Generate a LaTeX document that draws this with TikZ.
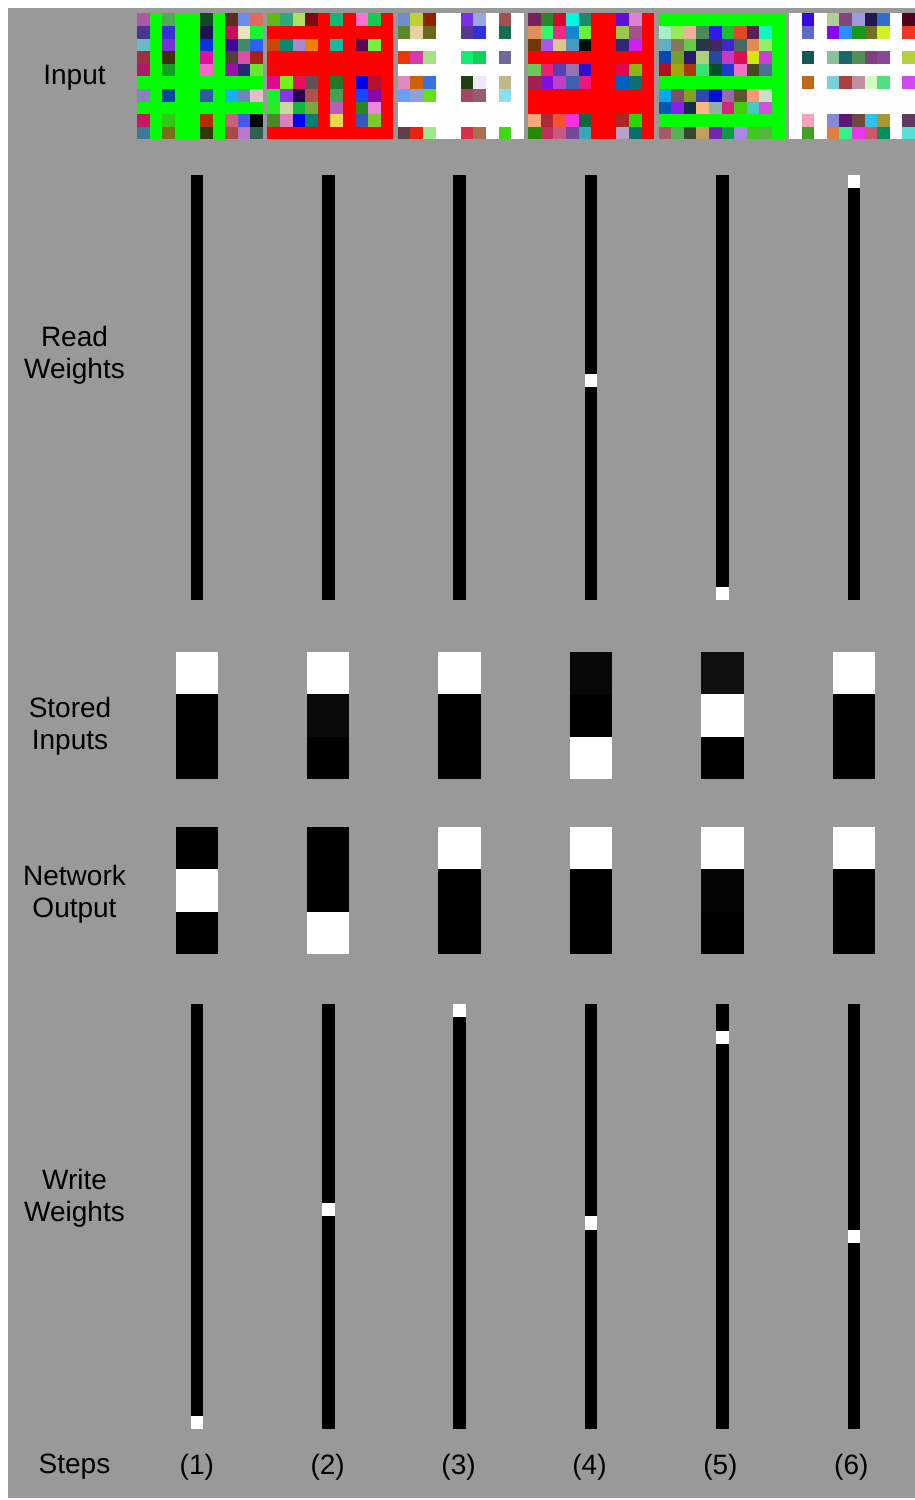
\documentclass[tikz,border=0pt]{standalone}
\usepackage{fontspec}
\setmainfont{Liberation Sans}
\usepackage{tikz}
\definecolor{cPanel}{HTML}{999999}
\tikzset{
  rowlbl/.style={align=center,font=\fontsize{28}{32}\selectfont,text=black,inner sep=0pt},
  steplbl/.style={font=\fontsize{28}{32}\selectfont,text=black,inner sep=0pt},
  wcell/.style={fill=#1},
}
% 10x10 colour grid: left edge, background hex, rows of hex values ("-" keeps the background)
\newcommand{\cellgrid}[3]{%
  \definecolor{gridbg}{HTML}{#2}%
  \fill[gridbg] (#1,13.3) rectangle ++(126,126);
  \foreach \row [count=\r from 0] in {#3}{
    \foreach \c [count=\k from 0] in \row{
      \ifnum\strcmp{\c}{-}=0 \else
        \definecolor{cellc}{HTML}{\c}%
        \fill[cellc] (#1+\k*12.6,13.3+\r*12.6) rectangle ++(12.65,12.65);
      \fi
    }
  }
}

\begin{document}
\begin{tikzpicture}[x=1pt,y=-1pt]
  \fill[white] (0,0) rectangle (915,1500);
  \useasboundingbox (0,0) rectangle (915,1500);
  \fill[cPanel] (8,8) rectangle (915,1498);

  % row labels
  \node[rowlbl] (lInput) at (74.5,78) {Input};
  \node[rowlbl] (lRead) at (74.5,355) {Read\\Weights};
  \node[rowlbl] (lStored) at (70,726) {Stored\\Inputs};
  \node[rowlbl] (lNet) at (74.5,894) {Network\\Output};
  \node[rowlbl] (lWrite) at (74.5,1198) {Write\\Weights};
  \node[rowlbl] (lSteps) at (74.5,1467) {Steps};

  % input patterns
  \cellgrid{137}{00FF00}{
    {B055A8,-,4DAA55,-,-,0F4A22,-,5A2E1E,6B8FE8,E06B5A},
    {4A3590,-,3530D8,-,-,1E1250,-,C8105A,E8E6B8,15F530},
    {6CB8C8,-,7530D8,-,-,0535D8,-,400898,408C6A,3060F8},
    {9E3040,-,3E3008,-,-,E010A0,-,504038,D850A8,A82018},
    {B01868,-,10A020,-,-,F868C8,-,9A10A8,282878,68E830},
    {-,-,-,-,-,-,-,-,-,-},
    {8A80C8,-,084898,-,-,2E5AA0,-,18B0F0,6A88B8,E0C0C8},
    {-,-,-,-,-,-,-,-,-,-},
    {C81860,-,30C818,-,-,B03000,-,C86078,4858E8,000A00},
    {3A7A98,-,787018,-,-,303808,-,A84A48,B878D0,306050}}
  \cellgrid{267.4}{FF0000}{
    {60B810,30A878,B0E060,800810,-,10B878,-,FF70D0,18C850,-},
    {-,-,-,-,-,-,-,-,-,-},
    {C84808,088870,A888D0,F08000,-,18B8A0,-,580850,78F040,-},
    {-,-,-,-,-,-,-,-,-,-},
    {-,-,-,-,-,-,-,-,-,-},
    {E00890,78F018,E81058,605058,-,207828,-,0000E8,B81030,-},
    {18F030,8838E0,280050,B05048,-,40A058,-,1848F8,8808A8,-},
    {28E828,C8D8A0,10B840,78A840,-,B860B8,-,288820,E888E0,-},
    {4A8828,D880C0,0000F0,088070,-,E8D850,-,3858B8,80C830,-},
    {-,-,-,-,-,-,-,-,-,-}}
  \cellgrid{397.8}{FFFFFF}{
    {6E8EC8,C0D030,902000,-,-,7830E8,98A8E0,-,A05050,-},
    {5A8A28,E8D0A0,686820,-,-,583890,3030D8,-,107050,-},
    {-,-,-,-,-,-,-,-,-,-},
    {E83808,D838B0,A8E088,-,-,10F070,10D060,-,706898,-},
    {-,-,-,-,-,-,-,-,-,-},
    {E088C0,D06000,3870E0,-,-,1E4010,F0E8F8,-,C0B888,-},
    {68A0F8,90A0D8,68E018,-,-,A04860,906070,-,88E0F0,-},
    {-,-,-,-,-,-,-,-,-,-},
    {-,-,-,-,-,-,-,-,-,-},
    {604048,F02010,A0E890,-,-,D83048,A87050,-,40D810,-}}
  \cellgrid{528.2}{FF0000}{
    {782060,288828,D80828,00F8E0,208868,-,-,6010D0,E080D0,-},
    {E09058,30F870,F02880,1088D0,68F038,-,-,98C850,A85088,-},
    {703808,A858E8,D8C890,4898C0,001010,-,-,302878,D020F0,-},
    {-,-,-,-,-,-,-,-,-,-},
    {68C858,F02070,5840B0,9870B8,3010D0,-,-,E00848,88B810,-},
    {A02050,8010E0,C040C8,4060B0,F01878,-,-,0060C0,107070,-},
    {-,-,-,-,-,-,-,-,-,-},
    {-,-,-,-,-,-,-,-,-,-},
    {F8A878,B02838,F85030,F830E0,106840,-,-,A82828,28D800,-},
    {288800,C03058,C85880,784898,38A8B8,-,-,B8A0C8,087068,-}}
  \cellgrid{658.6}{00FF00}{
    {-,-,-,-,-,-,-,-,-,-},
    {A8F0C8,98E858,F0B0A0,4E8858,3018F0,18C030,E04828,5A2058,10F8C0,-},
    {60B0C8,887858,68C848,283848,402860,4028C8,486860,E88850,90F068,-},
    {0848B8,78A028,281870,B0D080,2848A0,C838C0,D81050,D0E810,C840D8,-},
    {B01020,A0A808,B03808,40E078,005030,2038D0,F070C8,484820,4A7098,-},
    {-,-,-,-,-,-,-,-,-,-},
    {08A8F0,805068,88A020,3048A8,0010D0,A068A8,585828,F89878,C8E0C8,-},
    {0058B0,8820E8,103048,F8B880,90B0A8,D02878,40D010,48C8C0,D050E0,-},
    {-,-,-,-,-,-,-,-,-,-},
    {A85868,58B058,384830,C0A060,7028B0,109848,A888E0,40C820,50B840,-}}
  \cellgrid{789}{FFFFFF}{
    {-,3808E0,-,B0D098,804878,A098E0,201850,3070C8,-,500020},
    {-,6068C8,-,8808F0,2890F8,189818,707020,D0F028,-,F03820},
    {-,-,-,-,-,-,-,-,-,-},
    {-,105A50,-,88C098,186868,509050,804080,884898,-,B8D038},
    {-,-,-,-,-,-,-,-,-,-},
    {-,C06818,-,78D0D8,B04040,C090A0,D0FFC0,50E080,-,D048F0},
    {-,-,-,-,-,-,-,-,-,-},
    {-,-,-,-,-,-,-,-,-,-},
    {-,F8A0B8,-,8888D8,601878,704840,30C0F0,A89830,-,603860},
    {-,40A028,-,E08040,38F088,E838E8,D05870,009058,-,58E0D0}}

  % read / write weight bars (32 slots, one may be lit)
  \foreach \i/\rd/\wr in {1/-1/31,2/-1/15,3/-1/0,4/15/16,5/31/2,6/0/17}{
    \pgfmathsetmacro\cx{196.8+131.4*(\i-1)}
    \fill[black] (\cx-6.3,175) rectangle (\cx+6.3,600);
    \fill[black] (\cx-6.3,1004) rectangle (\cx+6.3,1429);
    \ifnum\rd>-1 \fill[white] (\cx-6.3,175+\rd*13.28) rectangle ++(12.6,13.28); \fi
    \fill[white] (\cx-6.3,1004+\wr*13.28) rectangle ++(12.6,13.28);
    \node[steplbl] (step\i) at ({196.8+130.9*(\i-1)},1467) {(\i)};
  }

  % stored inputs and network output, three slots each
  \foreach \i/\sa/\sb/\sc/\na/\nb/\nc in {
      1/white/black/black/black/white/black,
      2/white/black!96/black/black/black/white,
      3/white/black/black/white/black/black,
      4/black!97/black/white/white/black/black,
      5/black!94/white/black/white/black!98/black,
      6/white/black/black/white/black/black}{
    \pgfmathsetmacro\cx{196.8+131.4*(\i-1)}
    \fill[wcell=\sa] (\cx-21.25,651.7) rectangle ++(42.5,42.45);
    \fill[wcell=\sb] (\cx-21.25,694.15) rectangle ++(42.5,42.45);
    \fill[wcell=\sc] (\cx-21.25,736.6) rectangle ++(42.5,42.45);
    \fill[wcell=\na] (\cx-21.25,826.7) rectangle ++(42.5,42.45);
    \fill[wcell=\nb] (\cx-21.25,869.15) rectangle ++(42.5,42.45);
    \fill[wcell=\nc] (\cx-21.25,911.6) rectangle ++(42.5,42.45);
  }
\end{tikzpicture}
\end{document}
